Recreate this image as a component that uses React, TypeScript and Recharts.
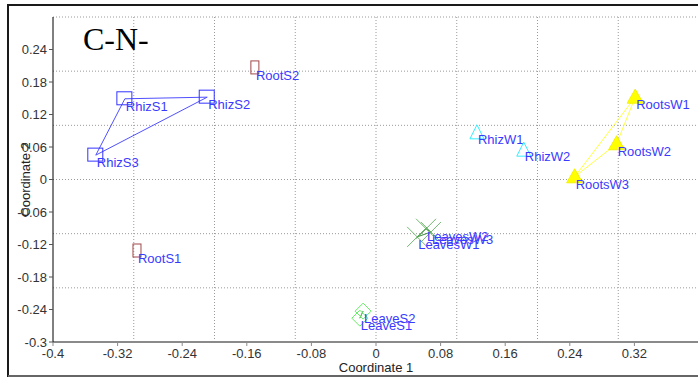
import React from 'react';
import { ScatterChart, Scatter, XAxis, YAxis, ReferenceLine, Label } from 'recharts';

// Ordination scores (Coordinate 1, Coordinate 2) per sample group
const rootS = [
  { name: 'RootS1', x: -0.296, y: -0.132 },
  { name: 'RootS2', x: -0.15, y: 0.206 },
];
const rhizS = [
  { name: 'RhizS1', x: -0.311, y: 0.149 },
  { name: 'RhizS2', x: -0.209, y: 0.152 },
  { name: 'RhizS3', x: -0.347, y: 0.045 },
];
const rhizW = [
  { name: 'RhizW1', x: 0.125, y: 0.088 },
  { name: 'RhizW2', x: 0.183, y: 0.056 },
];
const rootsW = [
  { name: 'RootsW1', x: 0.321, y: 0.152 },
  { name: 'RootsW2', x: 0.298, y: 0.066 },
  { name: 'RootsW3', x: 0.246, y: 0.005 },
];
const leavesW = [
  { name: 'LeavesW1', x: 0.051, y: -0.106 },
  { name: 'LeavesW3', x: 0.068, y: -0.097 },
  { name: 'LeavesW2', x: 0.062, y: -0.091 },
];
const leaveS = [
  { name: 'LeaveS1', x: -0.02, y: -0.256 },
  { name: 'LeaveS2', x: -0.016, y: -0.243 },
];

const xTicks = [-0.4, -0.32, -0.24, -0.16, -0.08, 0, 0.08, 0.16, 0.24, 0.32];
const yTicks = [-0.3, -0.24, -0.18, -0.12, -0.06, 0, 0.06, 0.12, 0.18, 0.24];
const xGrid = [-0.3, -0.2, -0.1, 0, 0.1, 0.2, 0.3];
const yGrid = [-0.2, -0.1, 0, 0.1, 0.2, 0.3];

const title = 'C-N-';

// closed convex hulls drawn as polylines
const closed = (pts: { name: string; x: number; y: number }[]) => [...pts, pts[0]];

const SANS = '"Liberation Sans", Arial, sans-serif';
const LABEL_COLOR = '#3a3aff';

const PointLabel = ({ cx, cy, text }: { cx: number; cy: number; text: string }) => (
  <text x={cx + 1} y={cy + 12} fontSize={13} fontFamily={SANS} fill={LABEL_COLOR}>
    {text}
  </text>
);

type ShapeProps = { cx?: number; cy?: number; payload?: { name: string } };

const makeShape = (kind: string) => (props: ShapeProps) => {
  const cx = props.cx ?? 0;
  const cy = props.cy ?? 0;
  const name = props.payload?.name ?? '';
  let mark: React.ReactNode = null;
  if (kind === 'rootS') {
    mark = <rect x={cx - 4} y={cy - 7} width={8} height={13} fill="none" stroke="#a04848" strokeWidth={1} />;
  } else if (kind === 'rhizS') {
    mark = <rect x={cx - 8} y={cy - 7} width={15} height={13} fill="none" stroke="#3333ff" strokeWidth={1} />;
  } else if (kind === 'rhizW') {
    mark = (
      <polygon
        points={`${cx},${cy - 7} ${cx - 7},${cy + 7} ${cx + 7},${cy + 7}`}
        fill="none"
        stroke="#33eeff"
        strokeWidth={1}
      />
    );
  } else if (kind === 'rootsW') {
    mark = (
      <polygon
        points={`${cx},${cy - 8} ${cx - 8},${cy + 6} ${cx + 8},${cy + 6}`}
        fill="#ffff00"
        stroke="#f2f200"
        strokeWidth={1}
      />
    );
  } else if (kind === 'leavesW') {
    mark = (
      <g stroke="#5aaa5a" strokeWidth={1} strokeOpacity={0.85}>
        <line x1={cx - 10} y1={cy - 10} x2={cx + 10} y2={cy + 10} />
        <line x1={cx - 10} y1={cy + 10} x2={cx + 10} y2={cy - 10} />
      </g>
    );
  } else if (kind === 'leaveS') {
    mark = (
      <polygon
        points={`${cx},${cy - 8} ${cx + 8},${cy} ${cx},${cy + 8} ${cx - 8},${cy}`}
        fill="none"
        stroke="#66ee66"
        strokeWidth={1}
      />
    );
  }
  return (
    <g>
      {mark}
      <PointLabel cx={cx} cy={cy} text={name} />
    </g>
  );
};

const noMarker = () => <g />;

const YTitle = (props: any) => {
  const vb = props.viewBox || { x: 8, y: 17, width: 45, height: 325 };
  const x = vb.x + 17;
  const y = vb.y + vb.height / 2;
  return (
    <text
      x={x}
      y={y}
      transform={`rotate(-90 ${x} ${y})`}
      textAnchor="middle"
      dominantBaseline="central"
      fontSize={13}
      fontFamily={SANS}
      fill="#222"
    >
      Coordinate 2
    </text>
  );
};

const XTitle = (props: any) => {
  const vb = props.viewBox || { x: 53, y: 342, width: 646, height: 36 };
  return (
    <text x={vb.x + vb.width / 2} y={vb.y + 30} textAnchor="middle" fontSize={13} fontFamily={SANS} fill="#222">
      Coordinate 1
    </text>
  );
};

const gridStyle = { stroke: '#9a9a9a', strokeDasharray: '1 2', strokeWidth: 1 };

export default function App() {
  return (
    <div style={{ position: 'absolute', left: 0, top: 0, width: 698, height: 378, overflow: 'hidden', background: '#fff' }}>
      <ScatterChart width={700} height={378} margin={{ top: 17, right: 1, bottom: 0, left: 8 }}>
        <XAxis
          type="number"
          dataKey="x"
          domain={[-0.4, 0.4]}
          ticks={xTicks}
          interval={0}
          height={36}
          tickSize={4}
          tickMargin={3}
          axisLine={{ stroke: '#8a8a8a', strokeWidth: 2 }}
          tickLine={{ stroke: '#8a8a8a' }}
          tick={{ fontSize: 13, fontFamily: SANS, fill: '#333' }}
        >
          <Label content={<XTitle />} />
        </XAxis>
        <YAxis
          type="number"
          dataKey="y"
          domain={[-0.3, 0.3]}
          ticks={yTicks}
          interval={0}
          width={45}
          tickSize={4}
          tickMargin={2}
          axisLine={{ stroke: '#000', strokeWidth: 1 }}
          tickLine={{ stroke: '#555' }}
          tick={{ fontSize: 13, fontFamily: SANS, fill: '#333' }}
        >
          <Label content={<YTitle />} />
        </YAxis>
        {xGrid.map((v) => (
          <ReferenceLine key={`gx${v}`} x={v} {...gridStyle} />
        ))}
        {yGrid.map((v) => (
          <ReferenceLine key={`gy${v}`} y={v} {...gridStyle} />
        ))}
        <Scatter data={closed(rhizS)} line={{ stroke: '#5050ff', strokeWidth: 1 }} shape={noMarker} isAnimationActive={false} />
        <Scatter data={closed(rootsW)} line={{ stroke: '#ffff44', strokeWidth: 1 }} shape={noMarker} isAnimationActive={false} />
        <Scatter data={closed(leavesW)} line={{ stroke: '#3d8a3d', strokeWidth: 1 }} shape={noMarker} isAnimationActive={false} />
        <Scatter data={closed(leaveS)} line={{ stroke: '#55bb55', strokeWidth: 1 }} shape={noMarker} isAnimationActive={false} />
        <Scatter data={rootS} shape={makeShape('rootS')} isAnimationActive={false} />
        <Scatter data={rhizS} shape={makeShape('rhizS')} isAnimationActive={false} />
        <Scatter data={rhizW} shape={makeShape('rhizW')} isAnimationActive={false} />
        <Scatter data={rootsW} shape={makeShape('rootsW')} isAnimationActive={false} />
        <Scatter data={leavesW} shape={makeShape('leavesW')} isAnimationActive={false} />
        <Scatter data={leaveS} shape={makeShape('leaveS')} isAnimationActive={false} />
      </ScatterChart>
      <svg width={698} height={378} style={{ position: 'absolute', left: 0, top: 0, pointerEvents: 'none' }}>
        <line x1={8} y1={5} x2={698} y2={5} stroke="#1a1a1a" strokeWidth={2} />
        <line x1={8} y1={4} x2={8} y2={377} stroke="#1a1a1a" strokeWidth={2} />
        <line x1={8} y1={376} x2={698} y2={376} stroke="#666" strokeWidth={2} />
        <text x={83} y={50} fontSize={32} fontFamily={'"Liberation Serif", "Times New Roman", serif'} fill="#000">
          {title}
        </text>
      </svg>
    </div>
  );
}
